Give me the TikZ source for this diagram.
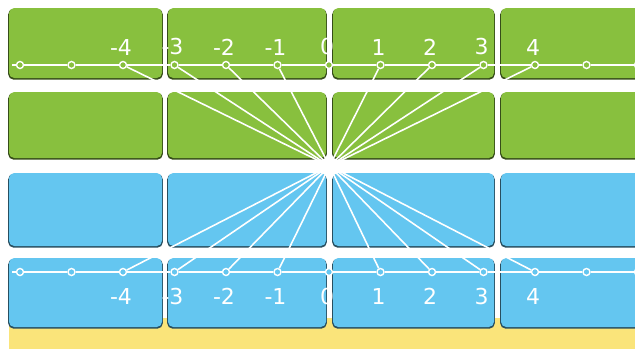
\documentclass[tikz,border=0pt]{standalone}
\usepackage{fontspec}
\setsansfont{DejaVu Sans}
\usepackage{tikz}
\usetikzlibrary{positioning}
\usepackage{xcolor}
\definecolor{leafgreen}{RGB}{136,192,62}
\definecolor{skyblue}{RGB}{100,198,240}
\definecolor{sandyellow}{RGB}{250,228,122}

\begin{document}
\begin{tikzpicture}[x=0.02cm,y=-0.02cm,
  tick/.style={circle,draw=white,line width=0.8pt,inner sep=0pt,minimum size=0.14cm},
  numline/.style={draw=white,line width=1.6pt},
  ray/.style={draw=white,line width=0.9pt},
  numlab/.style={text=white,font=\sffamily\fontsize{12.5}{12.5}\selectfont,inner sep=0pt}
]

\useasboundingbox (0,0) rectangle (635,349);
\fill[white] (0,0) rectangle (635,349);
\clip (0,0) rectangle (635,349);

% yellow strip under the blocks
\fill[sandyellow] (9,318) rectangle (640,349);

% tiles: dark rim first, then the fill
\foreach \ya/\yb/\c in {8/78/leafgreen,92/158/leafgreen,173/246/skyblue,258/327/skyblue}
  \foreach \xa/\xb in {9/162,168/326,333/494,501/650} {
    \fill[\c!40!black,rounded corners=3pt] (\xa-0.8,\ya+1) rectangle (\xb+0.8,\yb+1.6);
    \fill[\c,rounded corners=3pt] (\xa,\ya) rectangle (\xb,\yb);
  }

% white joints between the tiles
\foreach \gx in {165,329.5,497.5}
  \foreach \gy in {85,252}
    \fill[white] (\gx,\gy) circle (6);
\fill[white] (329.5,166) circle (7);

\coordinate (hub) at (329.5,166);

% number lines
\foreach \n in {-6,...,6} {
  \node[tick,fill=leafgreen] (t\n) at ({329+51.5*\n},65) {};
  \node[tick,fill=skyblue]   (b\n) at ({329+51.5*\n},272) {};
}
\coordinate (tL) at (12,65);
\coordinate (bL) at (12,272);
\draw[numline] (tL) -- (t-6);
\draw[numline] (bL) -- (b-6);
\foreach \n [evaluate=\n as \m using int(\n+1)] in {-6,...,5} {
  \draw[numline] (t\n) -- (t\m);
  \draw[numline] (b\n) -- (b\m);
}

% rays from the hub
\foreach \n in {-4,...,4} {
  \draw[ray] (hub) -- (t\n);
  \draw[ray] (hub) -- (b\n);
}

% labels
\foreach \n in {-4,...,4} {
  \node[numlab] (lt\n) at ({327+51.5*\n},47) {\n};
  \node[numlab] (lb\n) at ({327+51.5*\n},296) {\n};
}

\end{tikzpicture}
\end{document}
